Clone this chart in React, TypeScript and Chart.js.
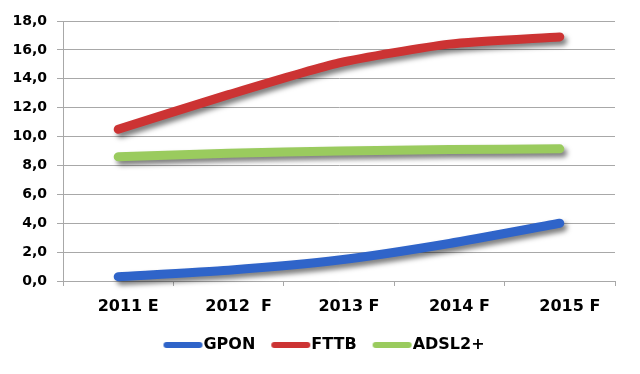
import React, { useEffect, useRef } from 'react';
import { Chart, registerables } from 'chart.js';

Chart.register(...registerables);

const categories = ['2011 E', '2012  F', '2013 F', '2014 F', '2015 F'];
const gponValues = [0.3, 0.75, 1.45, 2.6, 4.0];
const fttbValues = [10.5, 12.9, 15.1, 16.4, 16.9];
const adslValues = [8.6, 8.85, 9.0, 9.1, 9.15];
const seriesNames = ['GPON', 'FTTB', 'ADSL2+'];
const seriesColors = ['#2f64c9', '#cc3333', '#9acb5e'];
const yMin = 0;
const yMax = 18;
const yStep = 2;

const gridColor = '#a8a8a8';
const fontFamily = '"DejaVu Sans", Verdana, sans-serif';

function legendSwatch(color: string): HTMLCanvasElement {
  const c = document.createElement('canvas');
  c.width = 56;
  c.height = 8;
  const g = c.getContext('2d')!;
  g.strokeStyle = color;
  g.lineWidth = 6;
  g.lineCap = 'round';
  g.beginPath();
  g.moveTo(19, 4);
  g.lineTo(52, 4);
  g.stroke();
  return c;
}

const shadowPlugin = {
  id: 'lineShadow',
  beforeDatasetDraw(chart: any) {
    const ctx = chart.ctx;
    ctx.save();
    ctx.shadowColor = 'rgba(0,0,0,0.5)';
    ctx.shadowBlur = 5;
    ctx.shadowOffsetX = 3;
    ctx.shadowOffsetY = 4;
  },
  afterDatasetDraw(chart: any) {
    chart.ctx.restore();
  },
};

export default function App() {
  const ref = useRef<HTMLCanvasElement | null>(null);

  useEffect(() => {
    if (!ref.current) return;
    const swatches = seriesColors.map(legendSwatch);
    const seriesData = [gponValues, fttbValues, adslValues];
    const chart = new Chart(ref.current, {
      type: 'line',
      data: {
        labels: categories,
        datasets: seriesNames.map((name, i) => ({
          label: name,
          data: seriesData[i],
          borderColor: seriesColors[i],
          backgroundColor: seriesColors[i],
          borderWidth: 9,
          borderCapStyle: 'round',
          borderJoinStyle: 'round',
          pointRadius: 0,
          pointHoverRadius: 0,
          tension: 0.2,
          fill: false,
          clip: false,
        })) as any,
      },
      plugins: [shadowPlugin],
      options: {
        animation: false,
        responsive: true,
        maintainAspectRatio: false,
        layout: { padding: { top: 21, left: 0, right: 0, bottom: 11 } },
        plugins: {
          tooltip: { enabled: false },
          legend: {
            display: true,
            position: 'bottom',
            labels: {
              usePointStyle: true,
              pointStyleWidth: 40,
              padding: 8,
              color: '#000',
              font: { family: fontFamily, size: 16, weight: 'bold' },
              generateLabels: (ch: any) => {
                const items = (Chart.defaults.plugins.legend.labels as any).generateLabels(ch);
                return items.map((it: any, i: number) => ({ ...it, pointStyle: swatches[i], lineWidth: 0 }));
              },
            },
          },
        },
        scales: {
          x: {
            type: 'category',
            offset: true,
            grid: {
              offset: true,
              drawOnChartArea: false,
              drawTicks: true,
              tickLength: 5,
              color: gridColor,
            },
            border: { color: gridColor, width: 1 },
            ticks: {
              color: '#000',
              labelOffset: 10,
              padding: 11,
              maxRotation: 0,
              autoSkip: false,
              font: { family: fontFamily, size: 16, weight: 'bold' },
            },
            afterFit: (s: any) => { s.height = 48; },
          },
          y: {
            min: yMin,
            max: yMax,
            grid: { color: gridColor, tickLength: 6, lineWidth: 1 },
            border: { color: gridColor, width: 1 },
            ticks: {
              stepSize: yStep,
              color: '#000',
              padding: 10,
              font: { family: fontFamily, size: 14, weight: 'bold' },
              callback: (v: any) => Number(v).toFixed(1).replace('.', ','),
            },
            afterFit: (s: any) => { s.width = 63; },
          },
          yRight: {
            position: 'right',
            display: true,
            grid: { display: false, drawTicks: false },
            border: { display: false },
            ticks: { display: false },
            afterFit: (s: any) => { s.width = 25; },
          },
        },
      } as any,
    });
    return () => chart.destroy();
  }, []);

  return (
    <div style={{ position: 'fixed', left: 0, top: 0, width: 640, height: 374, background: '#fff' }}>
      <canvas ref={ref} />
    </div>
  );
}
